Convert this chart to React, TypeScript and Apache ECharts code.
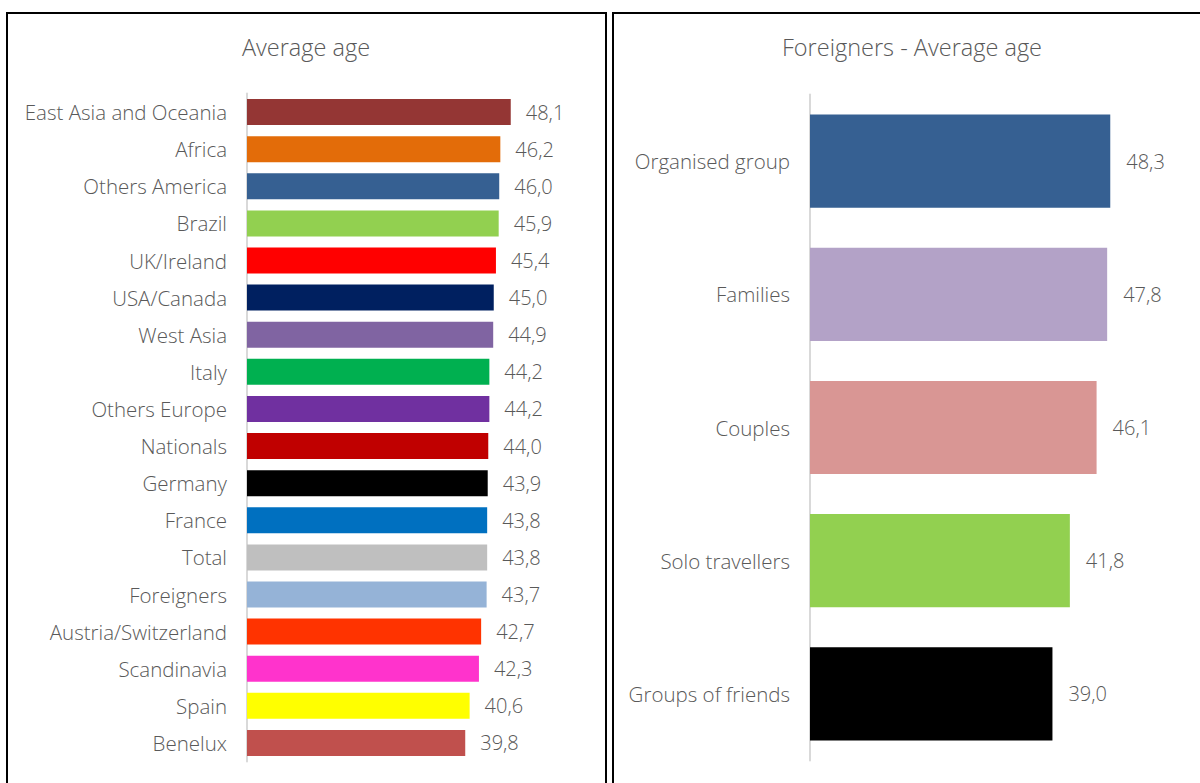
import React, { useEffect, useRef } from "react";
import * as echarts from "echarts";

const leftTitle = "Average age";
const leftCategories = [
  "East Asia and Oceania", "Africa", "Others America", "Brazil", "UK/Ireland",
  "USA/Canada", "West Asia", "Italy", "Others Europe", "Nationals", "Germany",
  "France", "Total", "Foreigners", "Austria/Switzerland", "Scandinavia", "Spain", "Benelux",
];
const leftValues = [48.1, 46.2, 46.0, 45.9, 45.4, 45.0, 44.9, 44.2, 44.2, 44.0, 43.9, 43.8, 43.8, 43.7, 42.7, 42.3, 40.6, 39.8];
const leftColors = [
  "#943634", "#E36C09", "#366092", "#92D050", "#FF0000", "#002060", "#8064A2", "#00B050",
  "#7030A0", "#C00000", "#000000", "#0070C0", "#BFBFBF", "#95B3D7", "#FF3300", "#FF33CC",
  "#FFFF00", "#C0504D",
];

const rightTitle = "Foreigners - Average age";
const rightCategories = ["Organised group", "Families", "Couples", "Solo travellers", "Groups of friends"];
const rightValues = [48.3, 47.8, 46.1, 41.8, 39.0];
const rightColors = ["#366092", "#B3A2C7", "#D99694", "#92D050", "#000000"];

const FONT = "Open Sans";
const TXT = "#595959";

export default function App() {
  const ref = useRef<HTMLDivElement>(null);
  useEffect(() => {
    const chart = echarts.init(ref.current!, null, { renderer: "svg" });
    const fmt = (p: any) => Number(p.value).toFixed(1).replace(".", ",");
    const axisCommon = {
      axisLine: { show: true, lineStyle: { color: "#D9D9D9", width: 2 } },
      axisTick: { show: false },
      axisLabel: { color: TXT, fontFamily: FONT, fontSize: 20.5, fontWeight: 300, margin: 20 },
      splitLine: { show: false },
    };
    const labelStyle = { color: TXT, fontFamily: FONT, fontSize: 20, fontWeight: 300 };
    chart.setOption({
      animation: false,
      title: [
        { text: leftTitle, left: 301, top: 30, textAlign: "center",
          textStyle: { color: TXT, fontFamily: FONT, fontSize: 23.5, fontWeight: 300 } },
        { text: rightTitle, left: 907, top: 30, textAlign: "center",
          textStyle: { color: TXT, fontFamily: FONT, fontSize: 23.5, fontWeight: 300 } },
      ],
      graphic: [
        { type: "rect", shape: { x: 7, y: 13, width: 599, height: 800 }, style: { fill: "none", stroke: "#000", lineWidth: 2 } },
        { type: "rect", shape: { x: 613, y: 13, width: 600, height: 800 }, style: { fill: "none", stroke: "#000", lineWidth: 2 } },
      ],
      grid: [
        { left: 247, top: 93.5, width: 329, height: 668, containLabel: false },
        { left: 810, top: 94.5, width: 373, height: 666, containLabel: false },
      ],
      xAxis: [
        { type: "value", gridIndex: 0, min: 0, max: 60, show: false },
        { type: "value", gridIndex: 1, min: 0, max: 60, show: false },
      ],
      yAxis: [
        { type: "category", gridIndex: 0, data: leftCategories, inverse: true, ...axisCommon },
        { type: "category", gridIndex: 1, data: rightCategories, inverse: true, ...axisCommon },
      ],
      series: [
        {
          type: "bar", xAxisIndex: 0, yAxisIndex: 0, barCategoryGap: "30%",
          data: leftValues.map((v, i) => ({ value: v, itemStyle: { color: leftColors[i] } })),
          label: { show: true, position: "right", distance: 15, formatter: fmt, ...labelStyle },
        },
        {
          type: "bar", xAxisIndex: 1, yAxisIndex: 1, barCategoryGap: "30%",
          data: rightValues.map((v, i) => ({ value: v, itemStyle: { color: rightColors[i] } })),
          label: { show: true, position: "right", distance: 16, formatter: fmt, ...labelStyle },
        },
      ],
    });
    return () => chart.dispose();
  }, []);
  return <div ref={ref} style={{ position: "fixed", left: 0, top: 0, width: 1200, height: 783, background: "#fff" }} />;
}
